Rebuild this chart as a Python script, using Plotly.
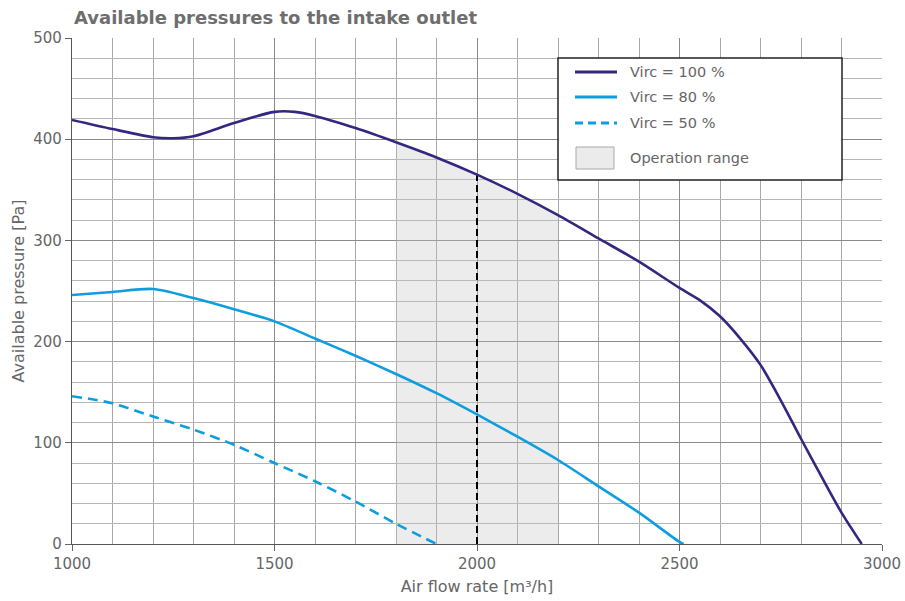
import plotly.graph_objects as go

flow_100 = [1000, 1100, 1200, 1250, 1300, 1400, 1500, 1550, 1600, 1700, 1800, 1900, 2000, 2100, 2200, 2300, 2400, 2500, 2550, 2600, 2650, 2700, 2750, 2800, 2850, 2900, 2950]
pres_100 = [419, 410, 402, 401, 403, 416, 427, 427, 423, 411, 397, 382, 365, 346, 325, 302, 279, 253, 241, 225, 203, 177, 142, 104, 67, 31, 0]

flow_80 = [1000, 1100, 1200, 1300, 1400, 1500, 1600, 1700, 1800, 1900, 2000, 2100, 2200, 2300, 2400, 2500, 2510]
pres_80 = [246, 249, 252, 243, 232, 220, 203, 186, 168, 149, 128, 106, 83, 57, 31, 2, 0]

flow_50 = [1000, 1050, 1100, 1200, 1300, 1400, 1500, 1600, 1700, 1800, 1900]
pres_50 = [146, 143, 139, 126, 113, 98, 80, 62, 42, 20, 0]

range_start, range_end, design_flow = 1800, 2200, 2000

series_names = ["Virc = 100 %", "Virc = 80 %", "Virc = 50 %"]
range_name = "Operation range"

x_ticks = [1000, 1500, 2000, 2500, 3000]
y_ticks = [0, 100, 200, 300, 400, 500]

DARK = "#33287f"
BLUE = "#0e9ee0"
TXT = "#666666"
FONT = "DejaVu Sans, Verdana, sans-serif"

W, H = 905, 601
L, R, T, B = 72, 23, 38, 57
PW, PH = W - L - R, H - T - B


def px(x):
    return (x - L) / PW


def py(y):
    return (H - B - y) / PH


i0 = flow_100.index(range_start)
i1 = flow_100.index(range_end)
idx_design = flow_100.index(design_flow)

fig = go.Figure()

fig.add_trace(go.Scatter(
    x=flow_100[i0:i1 + 1], y=pres_100[i0:i1 + 1], mode="lines",
    line=dict(width=0, shape="spline", smoothing=0.8, color="rgba(0,0,0,0)"),
    fill="tozeroy", fillcolor="rgba(195,195,195,0.32)",
    showlegend=False, hoverinfo="skip"))

fig.add_trace(go.Scatter(
    x=[design_flow, design_flow], y=[0, pres_100[idx_design]], mode="lines",
    line=dict(color="black", width=2, dash="7px,4px"), showlegend=False))

styles = [dict(color=DARK, width=2.6, shape="spline", smoothing=0.8),
          dict(color=BLUE, width=2.6, shape="spline", smoothing=0.8),
          dict(color=BLUE, width=2.6, shape="spline", smoothing=0.8, dash="10px,6px")]
for fx, fy, nm, st in zip([flow_100, flow_80, flow_50], [pres_100, pres_80, pres_50], series_names, styles):
    fig.add_trace(go.Scatter(x=fx, y=fy, mode="lines", name=nm, line=st, showlegend=False))

# manual legend (box, samples, labels)
shapes = [dict(type="rect", xref="paper", yref="paper", x0=px(558), x1=px(842), y0=py(180), y1=py(58),
               line=dict(color="#222222", width=1.5), fillcolor="white", layer="above")]
annotations = []
legend_y = [72, 97, 123]
for nm, st, yy in zip(series_names, styles, legend_y):
    shapes.append(dict(type="line", xref="paper", yref="paper", x0=px(575), x1=px(617), y0=py(yy), y1=py(yy),
                       line=dict(color=st["color"], width=2.8,
                                 dash="8px,5px" if "dash" in st else "solid"), layer="above"))
    annotations.append(dict(text=nm, xref="paper", yref="paper", x=px(628), y=py(yy), xanchor="left",
                            yanchor="middle", showarrow=False, font=dict(size=14.5, color=TXT, family=FONT)))
shapes.append(dict(type="rect", xref="paper", yref="paper", x0=px(576), x1=px(614), y0=py(169), y1=py(147),
                   line=dict(color="#a8a8a8", width=1), fillcolor="#ebebeb", layer="above"))
annotations.append(dict(text=range_name, xref="paper", yref="paper", x=px(628), y=py(158), xanchor="left",
                        yanchor="middle", showarrow=False, font=dict(size=14.5, color=TXT, family=FONT)))

fig.update_layout(
    width=W, height=H,
    margin=dict(l=L, r=R, t=T, b=B, autoexpand=False),
    paper_bgcolor="white", plot_bgcolor="white",
    font=dict(family=FONT, color=TXT, size=15),
    title=dict(text="<b>Available pressures to the intake outlet</b>", x=74 / W, xanchor="left",
               y=1 - 18 / H, yanchor="middle", font=dict(size=18, color="#6e6e6e", family=FONT),
               automargin=False),
    showlegend=False,
    shapes=shapes,
    annotations=annotations,
)

fig.update_xaxes(range=[1000, 3000], tickvals=x_ticks, ticks="outside", ticklen=6,
                 tickcolor="#666", showgrid=True, gridcolor="#8a8a8a", gridwidth=1,
                 minor=dict(dtick=100, tick0=1000, showgrid=True, gridcolor="#a8a8a8", gridwidth=1),
                 showline=True, linecolor="#555", linewidth=1.2, mirror=False,
                 zeroline=False, automargin=False,
                 title=dict(text="Air flow rate [m³/h]", standoff=8, font=dict(size=16, color=TXT)),
                 tickfont=dict(size=15, color=TXT))
fig.update_yaxes(range=[0, 500], tickvals=y_ticks, ticks="outside", ticklen=6,
                 tickcolor="#666", showgrid=True, gridcolor="#8a8a8a", gridwidth=1,
                 minor=dict(dtick=20, tick0=0, showgrid=True, gridcolor="#b5b5b5", gridwidth=1),
                 showline=True, linecolor="#555", linewidth=1.2,
                 zeroline=False, automargin=False,
                 title=dict(text="Available pressure [Pa]", standoff=4, font=dict(size=16, color=TXT)),
                 tickfont=dict(size=15, color=TXT))

fig.write_html("out.html", config={"displayModeBar": False},
               post_script="document.body.style.margin='0px';document.body.style.overflow='hidden';")
